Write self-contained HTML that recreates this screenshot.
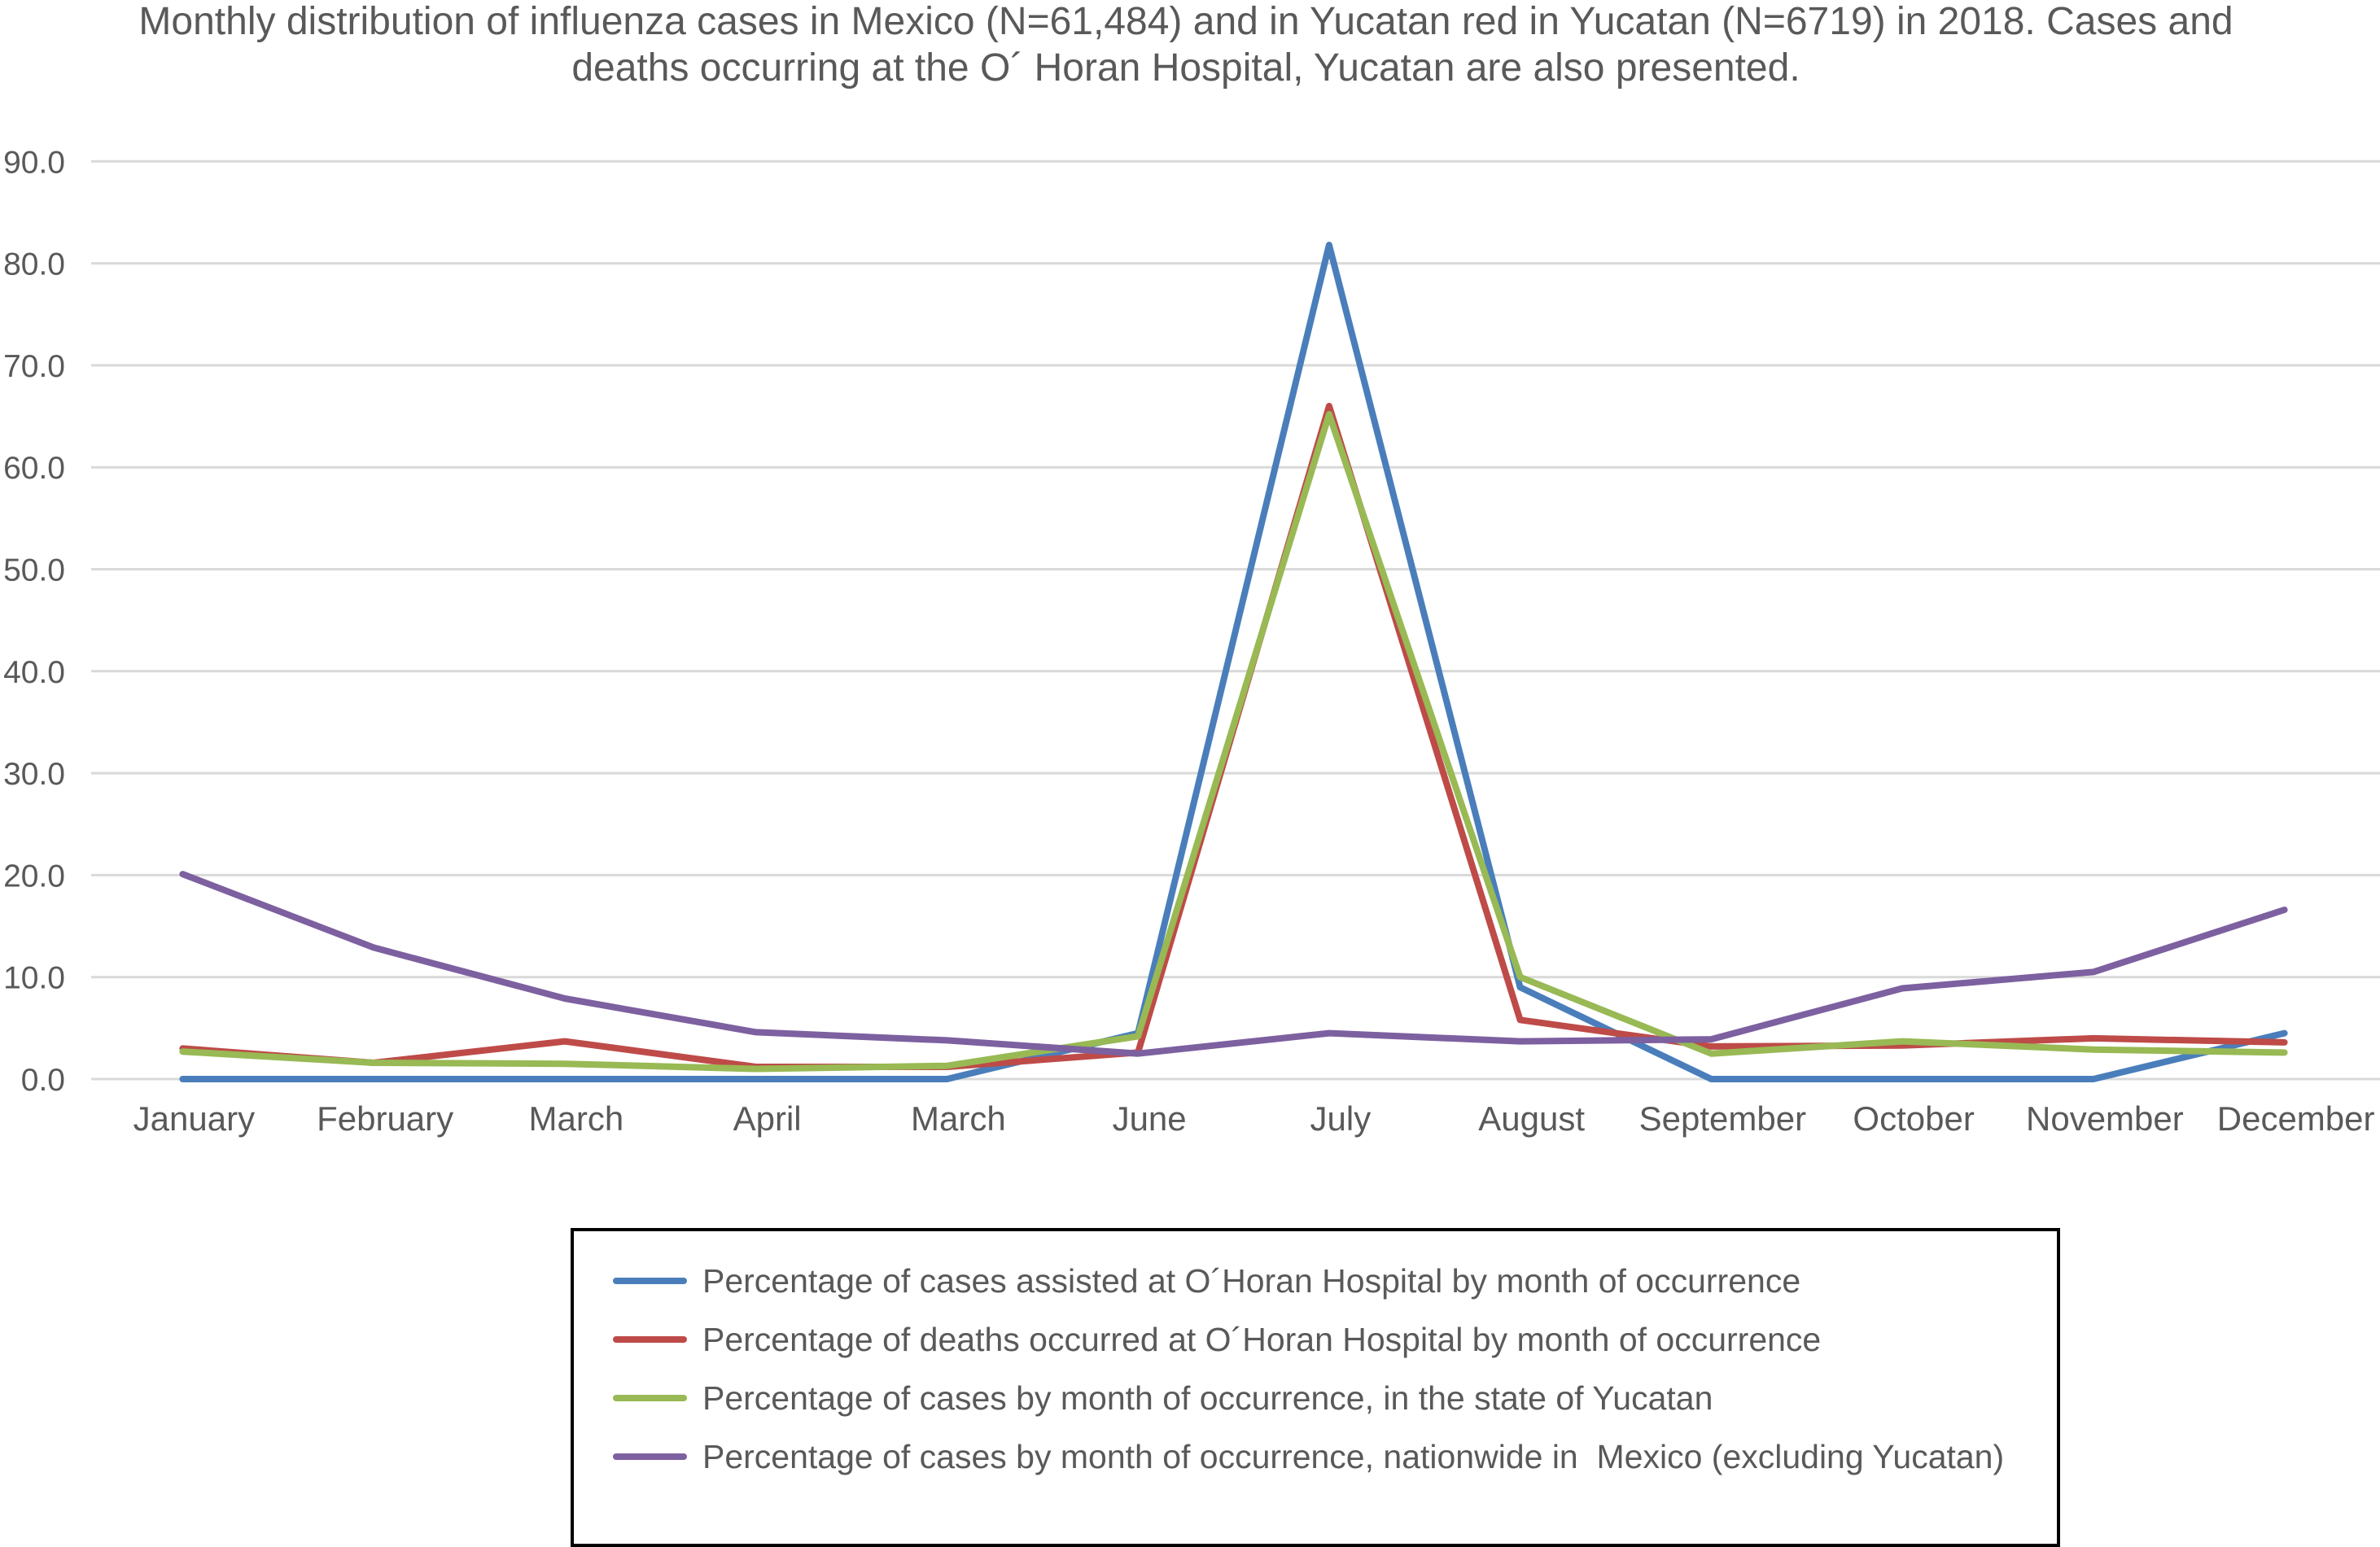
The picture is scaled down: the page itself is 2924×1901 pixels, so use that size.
<!DOCTYPE html>
<html><head><meta charset="utf-8"><style>
html,body{margin:0;padding:0;background:#fff;}
svg{display:block;font-family:"Liberation Sans",Arial,sans-serif;}
</style></head><body>
<svg id="chart" width="2924" height="1901" viewBox="0 0 2924 1901" xmlns="http://www.w3.org/2000/svg">
<g fill="#595959" font-size="48" text-anchor="middle">
<text x="1457" y="42">Monthly distribution of influenza cases in Mexico (N=61,484) and in Yucatan red in Yucatan (N=6719) in 2018. Cases and</text>
<text x="1457" y="99">deaths occurring at the O´ Horan Hospital, Yucatan are also presented.</text>
</g>
<g id="grid"></g>
<g id="yticks"></g>
<g id="xticks"></g>
<g id="series"></g>
<g>
<rect x="703" y="1511" width="1826" height="388" fill="none" stroke="#000" stroke-width="4"/>
<g><line x1="757" y1="1574" x2="840" y2="1574" stroke="#4a7ebb" stroke-width="8" stroke-linecap="round"/><text x="863" y="1588" font-size="41" fill="#595959">Percentage of cases assisted at O´Horan Hospital by month of occurrence</text></g>
<g><line x1="757" y1="1646" x2="840" y2="1646" stroke="#be4b48" stroke-width="8" stroke-linecap="round"/><text x="863" y="1660" font-size="41" fill="#595959">Percentage of deaths occurred at O´Horan Hospital by month of occurrence</text></g>
<g><line x1="757" y1="1718" x2="840" y2="1718" stroke="#98b954" stroke-width="8" stroke-linecap="round"/><text x="863" y="1732" font-size="41" fill="#595959">Percentage of cases by month of occurrence, in the state of Yucatan</text></g>
<g><line x1="757" y1="1790" x2="840" y2="1790" stroke="#7d60a0" stroke-width="8" stroke-linecap="round"/><text x="863" y="1804" font-size="41" fill="#595959">Percentage of cases by month of occurrence, nationwide in&#160; Mexico (excluding Yucatan)</text></g>
</g>
</svg>
<script>
const categories = ["January","February","March","April","March","June","July","August","September","October","November","December"];
const hospitalCases = [0,0,0,0,0,4.5,81.8,9.0,0,0,0,4.5];
const hospitalDeaths = [3.0,1.6,3.7,1.2,1.2,2.6,66.0,5.8,3.2,3.3,4.0,3.6];
const yucatanCases = [2.7,1.6,1.5,1.0,1.3,4.2,65.2,10.0,2.5,3.7,2.9,2.6];
const mexicoCases = [20.1,12.9,7.9,4.6,3.8,2.5,4.5,3.7,3.9,8.9,10.5,16.6];
const yTicks = [0,10,20,30,40,50,60,70,80,90];

const NS = "http://www.w3.org/2000/svg";
const plotLeft = 107, plotRight = 2924, y0 = 1326, yPer10 = 125.3;
const band = (plotRight - plotLeft) / categories.length;
function xScale(i){ return plotLeft + band * (i + 0.5); }
function yScale(v){ return y0 - v / 10 * yPer10; }
function mk(tag, attrs){ const e = document.createElementNS(NS, tag); for (const k in attrs) e.setAttribute(k, attrs[k]); return e; }

const grid = document.getElementById('grid'), yt = document.getElementById('yticks'), xt = document.getElementById('xticks'), ser = document.getElementById('series');
yTicks.forEach(v => {
  const l = mk('line', {x1: 112, x2: 2924, y1: yScale(v), y2: yScale(v), stroke: '#d9d9d9', 'stroke-width': 3});
  
  
  grid.appendChild(l);
  const t = mk('text', {x: 80, y: yScale(v) + 14, 'text-anchor': 'end', 'font-size': 39, fill: '#595959'});
  t.textContent = v.toFixed(1);
  
  
  yt.appendChild(t);
});
categories.forEach((c, i) => {
  const t = mk('text', {x: xScale(i) + 14, y: 1389, 'text-anchor': 'middle', 'font-size': 42, fill: '#595959'});
  t.textContent = c;
  
  
  xt.appendChild(t);
});
const seriesList = [
  {name: 'line-hospital-cases', data: hospitalCases, color: '#4a7ebb'},
  {name: 'line-hospital-deaths', data: hospitalDeaths, color: '#be4b48'},
  {name: 'line-yucatan-cases', data: yucatanCases, color: '#98b954'},
  {name: 'line-mexico-cases', data: mexicoCases, color: '#7d60a0'}
];
seriesList.forEach(s => {
  const pts = s.data.map((v, i) => xScale(i).toFixed(1) + ',' + yScale(v).toFixed(1)).join(' ');
  const p = mk('polyline', {points: pts, fill: 'none', stroke: s.color, 'stroke-width': 8, 'stroke-linejoin': 'round', 'stroke-linecap': 'round'});
  
  
  ser.appendChild(p);
});
</script>
</body></html>
